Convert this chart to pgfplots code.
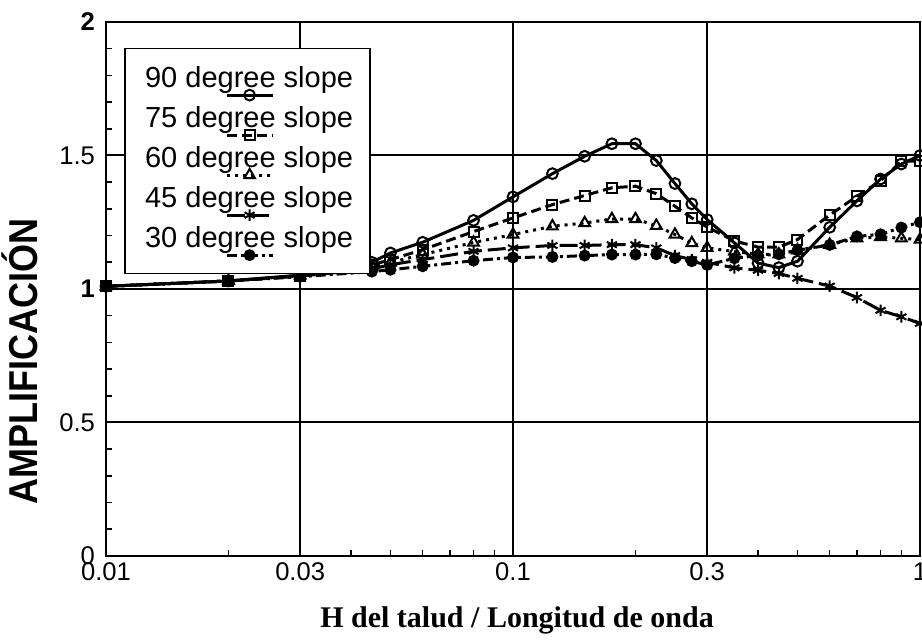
\documentclass[border=0pt]{standalone}
\usepackage{fontspec}
\setmainfont{Liberation Sans}
\newfontfamily\serifbf{Liberation Serif}
\usepackage{pgfplots}
\pgfplotsset{compat=1.18}
\usepackage{pgfplotstable}

\pgfplotstableread{
x     a     b     c     d     e
0.01  1.01  1.01  1.01  1.01  1.01
0.02  1.03  1.03  1.03  1.03  1.03
0.03  1.052 1.05  1.05  1.048 1.046
0.045 1.10  1.09  1.085 1.075 1.065
0.05  1.135 1.11  1.099 1.091 1.072
0.06  1.175 1.147 1.129 1.11  1.085
0.08  1.257 1.215 1.174 1.141 1.106
0.1   1.345 1.266 1.204 1.154 1.118
0.125 1.432 1.316 1.235 1.163 1.12
0.15  1.497 1.35  1.247 1.163 1.125
0.175 1.544 1.379 1.262 1.166 1.129
0.2   1.544 1.385 1.262 1.166 1.129
0.225 1.481 1.357 1.237 1.154 1.13
0.25  1.395 1.31  1.204 1.125 1.116
0.275 1.319 1.266 1.172 1.11  1.104
0.3   1.26  1.232 1.154 1.10  1.09
0.35  1.173 1.18  1.14  1.079 1.115
0.4   1.097 1.157 1.13  1.07  1.125
0.45  1.08  1.157 1.13  1.058 1.13
0.5   1.104 1.185 1.145 1.04  1.145
0.6   1.231 1.277 1.166 1.011 1.165
0.7   1.33  1.347 1.19  0.968 1.197
0.8   1.412 1.405 1.195 0.92  1.205
0.9   1.468 1.478 1.19  0.896 1.23
1.0   1.50  1.48  1.185 0.871 1.25
}\data

\begin{document}
\begin{tikzpicture}
\begin{axis}[
  scale only axis, width=407pt, height=267pt,
  xmode=log, xmin=0.01, xmax=1, ymin=0, ymax=2,
  xtick={0.01,0.03,0.1,0.3,1}, xticklabels={0.01,0.03,0.1,0.3,1},
  minor xtick={0.02,0.04,0.05,0.06,0.07,0.08,0.09,0.2,0.4,0.5,0.6,0.7,0.8,0.9},
  ytick={0,0.5,1,1.5,2}, yticklabels={0,0.5,\textbf{1},1.5,\textbf{2}},
  minor y tick num=4,
  tick pos=left, tick align=inside,
  major tick length=3pt, minor tick length=3pt,
  tick style={black, line width=0.8pt},
  grid=major, major grid style={black, line width=1pt},
  axis line style={line width=1pt},
  ticklabel style={font=\fontsize{12.8}{14}\selectfont},
  yticklabel style={xshift=-2pt},
  xlabel={H del talud / Longitud de onda},
  xlabel style={font=\serifbf\bfseries\fontsize{15}{17}\selectfont, at={([yshift=-36pt]rel axis cs:0.505,0)}, anchor=base},
  ylabel={\scalebox{1}[1.12]{AMPLIFICACIÓN}},
  ylabel style={font=\bfseries\fontsize{18}{20}\selectfont, at={([xshift=-43pt]rel axis cs:0,0.364)}, anchor=center},
  legend style={at={(rel axis cs:0.0225,0.952)}, anchor=north west, draw=black, line width=0.8pt, fill=white, inner sep=8.5pt, row sep=4.5pt, font=\fontsize{14.5}{17}\selectfont, nodes={inner sep=0pt, text height=11pt, text depth=4.5pt}},
  legend cell align=left,
  legend image code/.code={
    \path (0pt,0pt);
    \draw[overlay, mark repeat=2, mark phase=2, #1] plot coordinates {(41.5pt,-7.1pt) (53pt,-7.1pt) (64.5pt,-7.1pt)};
  },
]
\coordinate (sw) at (rel axis cs:0,0);
\coordinate (ne) at (rel axis cs:1,1);
\addplot[black, line width=1.5pt, mark=o, mark size=2.7pt, mark options={solid, fill=white, line width=1pt}] table[x=x,y=a]{\data};
\addlegendentry{90 degree slope}
\addplot[black, line width=1.5pt, dash pattern=on 5pt off 2.5pt, mark=square, mark size=2.5pt, mark options={solid, fill=white, line width=1pt}] table[x=x,y=b]{\data};
\addlegendentry{75 degree slope}
\addplot[black, line width=1.5pt, dash pattern=on 1.5pt off 2.5pt, mark=triangle, mark size=3.1pt, mark options={solid, fill=white, line width=1pt}] table[x=x,y=c]{\data};
\addlegendentry{60 degree slope}
\addplot[black, line width=1.5pt, dash pattern=on 9pt off 3pt, mark=asterisk, mark size=2.9pt, mark options={solid, line width=1pt}] table[x=x,y=d]{\data};
\addlegendentry{45 degree slope}
\addplot[black, line width=1.5pt, dash pattern=on 5pt off 2pt on 1.5pt off 2pt, mark=*, mark size=2.2pt, mark options={solid}] table[x=x,y=e]{\data};
\addlegendentry{30 degree slope}
\end{axis}
\pgfresetboundingbox
\path[use as bounding box] ([shift={(-53pt,-42pt)}]sw) rectangle ([shift={(1pt,11pt)}]ne);
\end{tikzpicture}
\end{document}
